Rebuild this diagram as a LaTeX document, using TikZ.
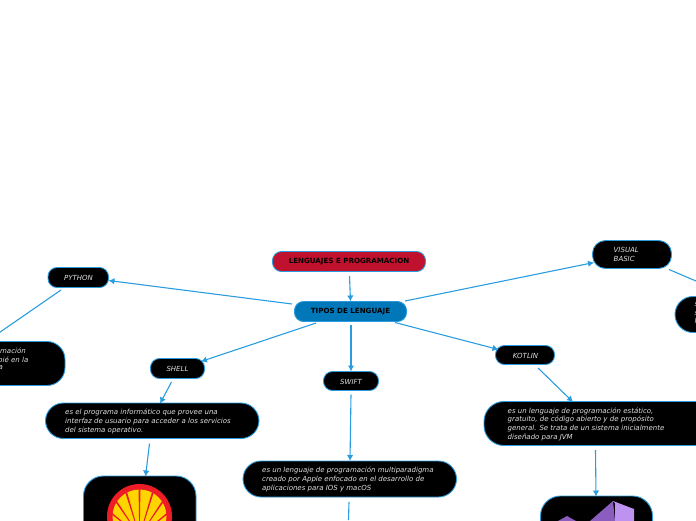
\documentclass[tikz,border=0pt]{standalone}
\usepackage{fontspec}
\setmainfont{DejaVu Sans}
\usetikzlibrary{arrows.meta}
\definecolor{edge}{HTML}{2A9DE0}
\definecolor{rimc}{HTML}{2A9BDD}
\definecolor{rootc}{HTML}{C0112F}
\definecolor{mainc}{HTML}{0077B8}
\definecolor{shred}{HTML}{EE1C25}
\definecolor{shyel}{HTML}{FFD500}
\definecolor{vsdark}{HTML}{8A5DBE}
\definecolor{vslite}{HTML}{BE92F0}
\tikzset{
  x=1pt,y=-1pt,
  box/.style={draw=rimc,line width=0.9pt,fill=black,rounded corners=#1},
  box/.default=9pt,
  itx/.style={text=white!88!black,font=\fontsize{7}{8.6}\selectfont\itshape,align=left,inner sep=0pt,anchor=north west},
  btx/.style={text=black,font=\fontsize{7.1}{8}\selectfont\bfseries,inner sep=0pt},
  arr/.style={draw=edge,line width=1.1pt,-{Latex[length=6pt,width=6.5pt]}},
  lin/.style={draw=edge,line width=1.1pt}
}
\begin{document}
\begin{tikzpicture}
\useasboundingbox (0,0) rectangle (696,520);
\begin{scope}
\clip (0,0) rectangle (696,520);
% boxes
\draw[box=9pt,fill=rootc] (272.5,251.5) rectangle (425.5,271.5);
\node[btx] (root) at (349,262) {LENGUAJES E PROGRAMACION};
\draw[box=9pt,fill=mainc] (294.5,301.5) rectangle (406.5,321.5);
\node[btx] (main) at (350.5,312) {TIPOS DE LENGUAJE};
\draw[box=9pt] (48,267.5) rectangle (108.5,287.5);
\node[itx,anchor=center] (py) at (78.5,278) {PYTHON};
\draw[box=9pt] (150.5,358.5) rectangle (204.5,378.5);
\node[itx,anchor=center] (sh) at (177.5,369) {SHELL};
\draw[box=9pt] (323.5,371.5) rectangle (378.5,390.5);
\node[itx,anchor=center] (sw) at (351,381.5) {SWIFT};
\draw[box=9pt] (495.5,345.5) rectangle (554.5,364.5);
\node[itx,anchor=center] (ko) at (525.5,355.5) {KOTLIN};
\draw[box=13pt] (592.5,240.5) rectangle (671.5,268.5);
\node[itx] (vb) at (613.5,247.5) {VISUAL\\BASIC};
% descriptions
\draw[box=18pt] (-60,341.5) rectangle (65,385.5);
\node[itx,anchor=north east] (pyd) at (26,348) {mación};
\node[itx,anchor=north east] at (28.5,356.5) {pié en la};
\node[itx,anchor=north east] at (3,365) {a};
\draw[box=18pt] (45.5,403) rectangle (259,438.5);
\node[itx] (shd) at (65,409) {es el programa informático que provee una\\interfaz de usuario para acceder a los servicios\\del sistema operativo.};
\draw[box=18pt] (243,461) rectangle (456.5,497);
\node[itx] (swd) at (262,467) {es un lenguaje de programación multiparadigma\\creado por Apple enfocado en el desarrollo de\\aplicaciones para IOS y macOS};
\draw[box=20pt] (484,401.5) rectangle (760,445.5);
\node[itx] (kod) at (507.5,407.5) {es un lenguaje de programación estático,\\gratuito, de código abierto y de propósito\\general. Se trata de un sistema inicialmente\\diseñado para JVM};
\draw[box=18pt] (675,296.5) rectangle (800,332.5);
\node[itx] (vbd) at (694.5,302.5) {s\\s\\l};
% images
\draw[box=20pt] (83.5,476) rectangle (196,600);
\draw[box=20pt] (540.5,496) rectangle (652.5,600);
% shell logo
\fill[shred] (139.5,516.5) circle (32.5);
\fill[shyel] (139.5,516.5) circle (27);
\begin{scope}
\clip (139.5,516.5) circle (32);
\foreach \a in {0,17,34,51,68,-17,-34,-51,-68}{
  \begin{scope}[shift={(139.5,536)},rotate=\a]
  \fill[shred] (-1,-50) -- (1,-50) -- (0.2,0) -- (-0.2,0) -- cycle;
  \end{scope}
}
\end{scope}
% second logo
\fill[vsdark] (558,521) -- (567,516) -- (576,521) -- cycle;
\fill[vsdark] (590,521) -- (613,501) -- (615,521) -- cycle;
\fill[vslite] (613,501) -- (634,509) -- (634,521) -- (615,521) -- (615,503) -- cycle;
\end{scope}
% connectors
\draw[arr] (349.5,276) -- (350.5,301.5);
\draw[arr] (292,304) -- (108.5,280.5);
\draw[arr] (316,323) -- (201,361.5);
\draw[arr] (351,325) -- (351,371.5);
\draw[arr] (395,322.5) -- (498.5,349.5);
\draw[arr] (405,301) -- (594,262.5);
\draw[lin] (61,290) -- (-2,333.5);
\draw[arr] (171.5,382) -- (160,403.5);
\draw[arr] (149.5,443.5) -- (145.5,476.5);
\draw[arr] (351,394.5) -- (350,461);
\draw[lin] (349,502) -- (348.5,520);
\draw[arr] (538,368) -- (573,402);
\draw[arr] (595.5,450) -- (596,496.5);
\draw[lin] (669,269.5) -- (696,281);
\end{tikzpicture}
\end{document}
